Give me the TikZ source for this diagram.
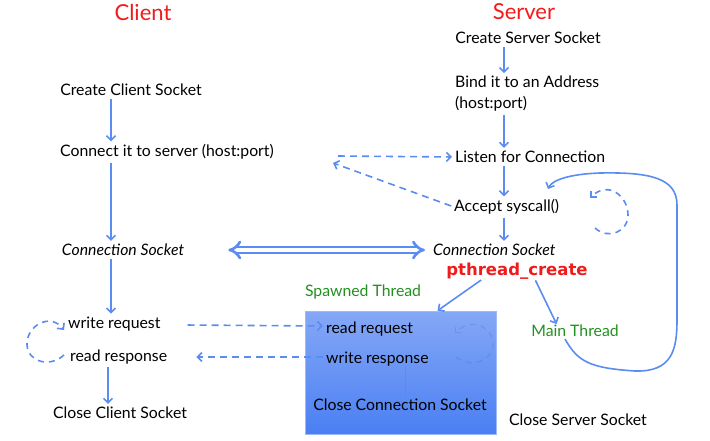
\documentclass[tikz,border=0pt]{standalone}
\usepackage{fontspec}
\setmainfont{Lato}
\newfontfamily\callfont{DejaVu Sans}
\usetikzlibrary{arrows.meta, calc}

\definecolor{flowblue}{HTML}{5B8CF2}
\definecolor{titlered}{HTML}{F21B1B}
\definecolor{threadgreen}{HTML}{22901E}
\definecolor{boxtop}{HTML}{85A8F6}
\definecolor{boxbottom}{HTML}{4A7FF3}

\tikzset{
  label text/.style = {font=\fontsize{15.8}{21}\selectfont, inner sep=0pt},
  side title/.style = {text=titlered, font=\fontsize{22}{24}\selectfont, inner sep=0pt},
  thread/.style = {text=threadgreen, font=\fontsize{15.8}{18}\selectfont, inner sep=0pt},
  stepline/.style = {draw=flowblue, line width=1.6pt, shorten >=3pt, shorten <=3pt,
                     -{Straight Barb[length=4.5pt, width=9pt]}},
  msgline/.style = {stepline, dash pattern=on 7pt off 5pt},
  loopline/.style = {draw=flowblue, line width=1.6pt, dash pattern=on 6pt off 5pt,
                     -{Straight Barb[length=4.5pt, width=9pt]}},
}

\begin{document}
\begin{tikzpicture}[x=1pt, y=-1pt]
  \useasboundingbox (0,0) rectangle (710,440);

  % titles
  \node[side title] (client) at (143,12) {Client};
  \node[side title] (server) at (524,12) {Server};

  % client column
  \begin{scope}[every node/.style={label text}]
    \node (ccs) at (131,90) {Create Client Socket};
    \node[anchor=west] (conn) at (60,152) {Connect it to server (host:port)};
    \node (csock) at (123,250) {\itshape Connection Socket};
    \node[anchor=west] (wreq) at (68,324) {write request};
    \node[anchor=west] (rresp) at (70,357) {read response};
    \node (ccls) at (120,413) {Close Client Socket};
  \end{scope}

  % server column
  \begin{scope}[every node/.style={label text}]
    \node (css) at (528,38) {Create Server Socket};
    \node[anchor=west, align=left] (bind) at (455,94) {Bind it to an Address\\(host:port)};
    \node[anchor=west] (listen) at (455,157) {Listen for Connection};
    \node[anchor=west] (accept) at (454,207) {Accept syscall()};
    \node[anchor=west] (ssock) at (433,250) {\itshape Connection Socket};
    \node (scls) at (578,420) {Close Server Socket};
  \end{scope}

  \node[text=titlered, inner sep=0pt, font=\callfont\bfseries\fontsize{16.5}{20}\selectfont] (pcreate) at (517,271) {pthread\_create};
  \node[thread] (spawned) at (363,292) {Spawned Thread};
  \node[thread] (mainth) at (575,331) {Main Thread};

  % spawned thread box
  \node[draw=boxtop!80!white, line width=0.6pt, top color=boxtop, bottom color=boxbottom,
        minimum width=191pt, minimum height=123pt, inner sep=0pt] (box) at (400.5,372.5) {};
  \draw[draw=flowblue!80!black, opacity=0.25, line width=1.4pt, dash pattern=on 6pt off 5pt,
        -{Straight Barb[length=4pt, width=8pt]}]
    (456,357) .. controls (470,368) and (492,362) .. (493,345)
    .. controls (494,328) and (472,316) .. (455,333);
  \draw[draw=flowblue!80!black, opacity=0.2, line width=1pt] (405,366) -- (405,395);
  \begin{scope}[every node/.style={label text}]
    \node[anchor=west] (rreq) at (326,329) {read request};
    \node[anchor=west] (wresp) at (326,359) {write response};
    \node (ccon) at (400,405) {Close Connection Socket};
  \end{scope}

  % client steps
  \draw[stepline] (ccs.south -| 111,0) -- (conn.north -| 111,0);
  \draw[stepline] (conn.south -| 111,0) -- (csock.north -| 111,0);
  \draw[stepline] (csock.south -| 111,0) -- (wreq.north -| 111,0);
  \draw[stepline] (rresp.south -| 108,0) -- (ccls.north -| 108,0);

  % server steps
  \draw[stepline] (css.south -| 504,0) -- (bind.north -| 504,0);
  \draw[stepline] (bind.south -| 504,0) -- (listen.north -| 504,0);
  \draw[stepline] (listen.south -| 504,0) -- (accept.north -| 504,0);
  \draw[stepline] (accept.south -| 504,0) -- (ssock.north -| 504,0);
  \draw[stepline, shorten <=1pt, shorten >=0pt] ($(pcreate.south)+(-35,0)$) -- ($(box.north)+(37,0)$);
  \draw[stepline, shorten <=1pt, shorten >=1pt] ($(pcreate.south)+(18,0)$) -- ($(mainth.north)+(-18,0)$);

  % connection set up
  \coordinate (lfree) at (338,156);
  \coordinate (afree) at (333,163);
  \draw[msgline, shorten <=0pt] (lfree) -- (listen.west);
  \draw[msgline, shorten >=0pt] (accept.west) -- (afree);
  \draw[draw=flowblue, line width=2.6pt, double=white, double distance=3.5pt, {Implies}-{Implies}]
    ($(csock.east)+(44,0)$) -- ($(ssock.west)+(-8,0)$);

  % request and response
  \draw[msgline] ($(wreq.east)+(24,1)$) -- ($(rreq.west)+(0,-3)$);
  \draw[msgline] ($(wresp.west)+(0,-2)$) -- ($(rresp.east)+(26,0)$);

  % loops
  \draw[loopline] ($(rresp.west)+(-6,-2)$) .. controls (50,368) and (28,362) .. (27,345)
    .. controls (26,326) and (50,312) .. ($(wreq.west)+(-4,6)$);
  \draw[loopline] (595,228) .. controls (608,240) and (628,232) .. (628,215)
    .. controls (628,196) and (608,180) .. (590,198);
  \draw[draw=flowblue, line width=1.6pt, -{Straight Barb[length=4.5pt, width=9pt]}]
    ($(mainth.south)+(-10,2)$) .. controls (578,362) and (590,368) .. (635,371)
    .. controls (672,372) and (677,350) .. (677,320)
    -- (677,205) .. controls (677,178) and (650,172) .. (600,173)
    .. controls (570,174) and (552,180) .. ($(accept.west)+(94,-18)$);
\end{tikzpicture}
\end{document}
